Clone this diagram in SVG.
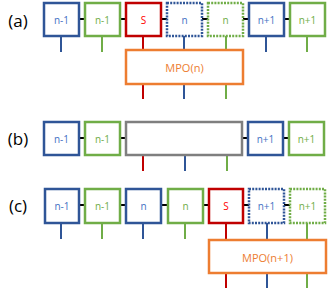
<svg xmlns="http://www.w3.org/2000/svg" width="332" height="293" viewBox="0 0 332 293">
<style>
.box{fill:#fff;stroke-width:2.5}
.b{stroke:#2F5597}
.g{stroke:#70AD47}
.r{stroke:#C00000}
.o{stroke:#ED7D31}
.k{stroke:#7F7F7F}
.dot{stroke-dasharray:2 1.2}
.lb{stroke:#2F5597;stroke-width:2}
.lg{stroke:#70AD47;stroke-width:2}
.lr{stroke:#C00000;stroke-width:2}
.bond{stroke:#000;stroke-width:2}
text{font-family:"Open Sans","Liberation Sans",sans-serif;text-anchor:middle;dominant-baseline:central}
.t{font-size:10px}
.tb{fill:#4472C4}
.tg{fill:#70AD47}
.tr{fill:#FF0000}
.to{fill:#ED7D31;font-size:11px}
.lab{font-size:17px;fill:#000}
</style>
<g id="connectors">
<!-- row a bonds -->
<line class="bond" x1="79" y1="19" x2="85" y2="19"/>
<line class="bond" x1="120" y1="19" x2="126" y2="19"/>
<line class="bond" x1="161" y1="19" x2="167" y2="19"/>
<line class="bond" x1="202" y1="19" x2="208" y2="19"/>
<line class="bond" x1="243" y1="19" x2="249" y2="19"/>
<line class="bond" x1="284" y1="19" x2="290" y2="19"/>
<!-- row a legs -->
<line class="lb" x1="61" y1="36" x2="61" y2="52"/>
<line class="lg" x1="102" y1="36" x2="102" y2="52"/>
<line class="lr" x1="143" y1="36" x2="143" y2="50"/>
<line class="lb" x1="184" y1="36" x2="184" y2="50"/>
<line class="lg" x1="226" y1="36" x2="226" y2="50"/>
<line class="lb" x1="266" y1="36" x2="266" y2="52"/>
<line class="lg" x1="307" y1="36" x2="307" y2="52"/>
<line class="lr" x1="143" y1="84" x2="143" y2="99"/>
<line class="lb" x1="184" y1="84" x2="184" y2="99"/>
<line class="lg" x1="226" y1="84" x2="226" y2="99"/>
<!-- row b bonds -->
<line class="bond" x1="79" y1="138" x2="85" y2="138"/>
<line class="bond" x1="120" y1="138" x2="126" y2="138"/>
<line class="bond" x1="242" y1="138" x2="248" y2="138"/>
<line class="bond" x1="283" y1="138" x2="289" y2="138"/>
<line class="lr" x1="143" y1="155" x2="143" y2="171"/>
<line class="lb" x1="185" y1="155" x2="185" y2="171"/>
<line class="lg" x1="227" y1="155" x2="227" y2="171"/>
<!-- row c bonds -->
<line class="bond" x1="79" y1="205" x2="85" y2="205"/>
<line class="bond" x1="120" y1="205" x2="126" y2="205"/>
<line class="bond" x1="161" y1="205" x2="168" y2="205"/>
<line class="bond" x1="203" y1="205" x2="209" y2="205"/>
<line class="bond" x1="243" y1="205" x2="249" y2="205"/>
<line class="bond" x1="284" y1="205" x2="290" y2="205"/>
<line class="lb" x1="61" y1="223" x2="61" y2="239"/>
<line class="lg" x1="102" y1="223" x2="102" y2="239"/>
<line class="lb" x1="143" y1="223" x2="143" y2="239"/>
<line class="lg" x1="185" y1="223" x2="185" y2="239"/>
<line class="lr" x1="226" y1="223" x2="226" y2="240"/>
<line class="lb" x1="267" y1="223" x2="267" y2="240"/>
<line class="lg" x1="307" y1="223" x2="307" y2="240"/>
<line class="lr" x1="226" y1="273" x2="226" y2="288"/>
<line class="lb" x1="267" y1="273" x2="267" y2="288"/>
<line class="lg" x1="307" y1="273" x2="307" y2="288"/>
</g>
<g id="labels">
<text class="lab" x="18" y="20">(a)</text>
<text class="lab" x="18" y="138">(b)</text>
<text class="lab" x="18" y="205">(c)</text>
</g>
<!-- row a -->
<g id="a1"><rect class="box b" x="44" y="3" width="35" height="33"/><text class="t tb" x="61.5" y="19.5">n-1</text></g>
<g id="a2"><rect class="box g" x="85" y="3" width="35" height="33"/><text class="t tg" x="102.5" y="19.5">n-1</text></g>
<g id="a3"><rect class="box r" x="126" y="3" width="35" height="33"/><text class="t tr" x="143.5" y="19.5">S</text></g>
<g id="a4"><rect class="box b dot" x="167" y="3" width="35" height="33"/><text class="t tb" x="184.5" y="19.5">n</text></g>
<g id="a5"><rect class="box g dot" x="208" y="3" width="35" height="33"/><text class="t tg" x="225.5" y="19.5">n</text></g>
<g id="a6"><rect class="box b" x="249" y="3" width="35" height="33"/><text class="t tb" x="266.5" y="19.5">n+1</text></g>
<g id="a7"><rect class="box g" x="290" y="3" width="35" height="33"/><text class="t tg" x="307.5" y="19.5">n+1</text></g>
<g id="aMPO"><rect class="box o" x="126" y="50" width="117" height="34"/><text class="to" x="184.5" y="67">MPO(n)</text></g>
<!-- row b -->
<g id="b1"><rect class="box b" x="44" y="122" width="35" height="33"/><text class="t tb" x="61.5" y="138.5">n-1</text></g>
<g id="b2"><rect class="box g" x="85" y="122" width="35" height="33"/><text class="t tg" x="102.5" y="138.5">n-1</text></g>
<g id="bGray"><rect class="box k" x="126" y="122" width="116" height="33"/></g>
<g id="b6"><rect class="box b" x="248" y="122" width="35" height="33"/><text class="t tb" x="265.5" y="138.5">n+1</text></g>
<g id="b7"><rect class="box g" x="289" y="122" width="35" height="33"/><text class="t tg" x="306.5" y="138.5">n+1</text></g>
<!-- row c -->
<g id="c1"><rect class="box b" x="45" y="189" width="34" height="34"/><text class="t tb" x="62" y="206">n-1</text></g>
<g id="c2"><rect class="box g" x="85" y="189" width="35" height="34"/><text class="t tg" x="102.5" y="206">n-1</text></g>
<g id="c3"><rect class="box b" x="126" y="189" width="35" height="34"/><text class="t tb" x="143.5" y="206">n</text></g>
<g id="c4"><rect class="box g" x="168" y="189" width="35" height="34"/><text class="t tg" x="185.5" y="206">n</text></g>
<g id="c5"><rect class="box r" x="209" y="189" width="34" height="34"/><text class="t tr" x="226" y="206">S</text></g>
<g id="c6"><rect class="box b dot" x="249" y="189" width="35" height="34"/><text class="t tb" x="266.5" y="206">n+1</text></g>
<g id="c7"><rect class="box g dot" x="290" y="189" width="35" height="34"/><text class="t tg" x="307.5" y="206">n+1</text></g>
<g id="cMPO"><rect class="box o" x="209" y="240" width="117" height="33"/><text class="to" x="267.5" y="257">MPO(n+1)</text></g>
</svg>
